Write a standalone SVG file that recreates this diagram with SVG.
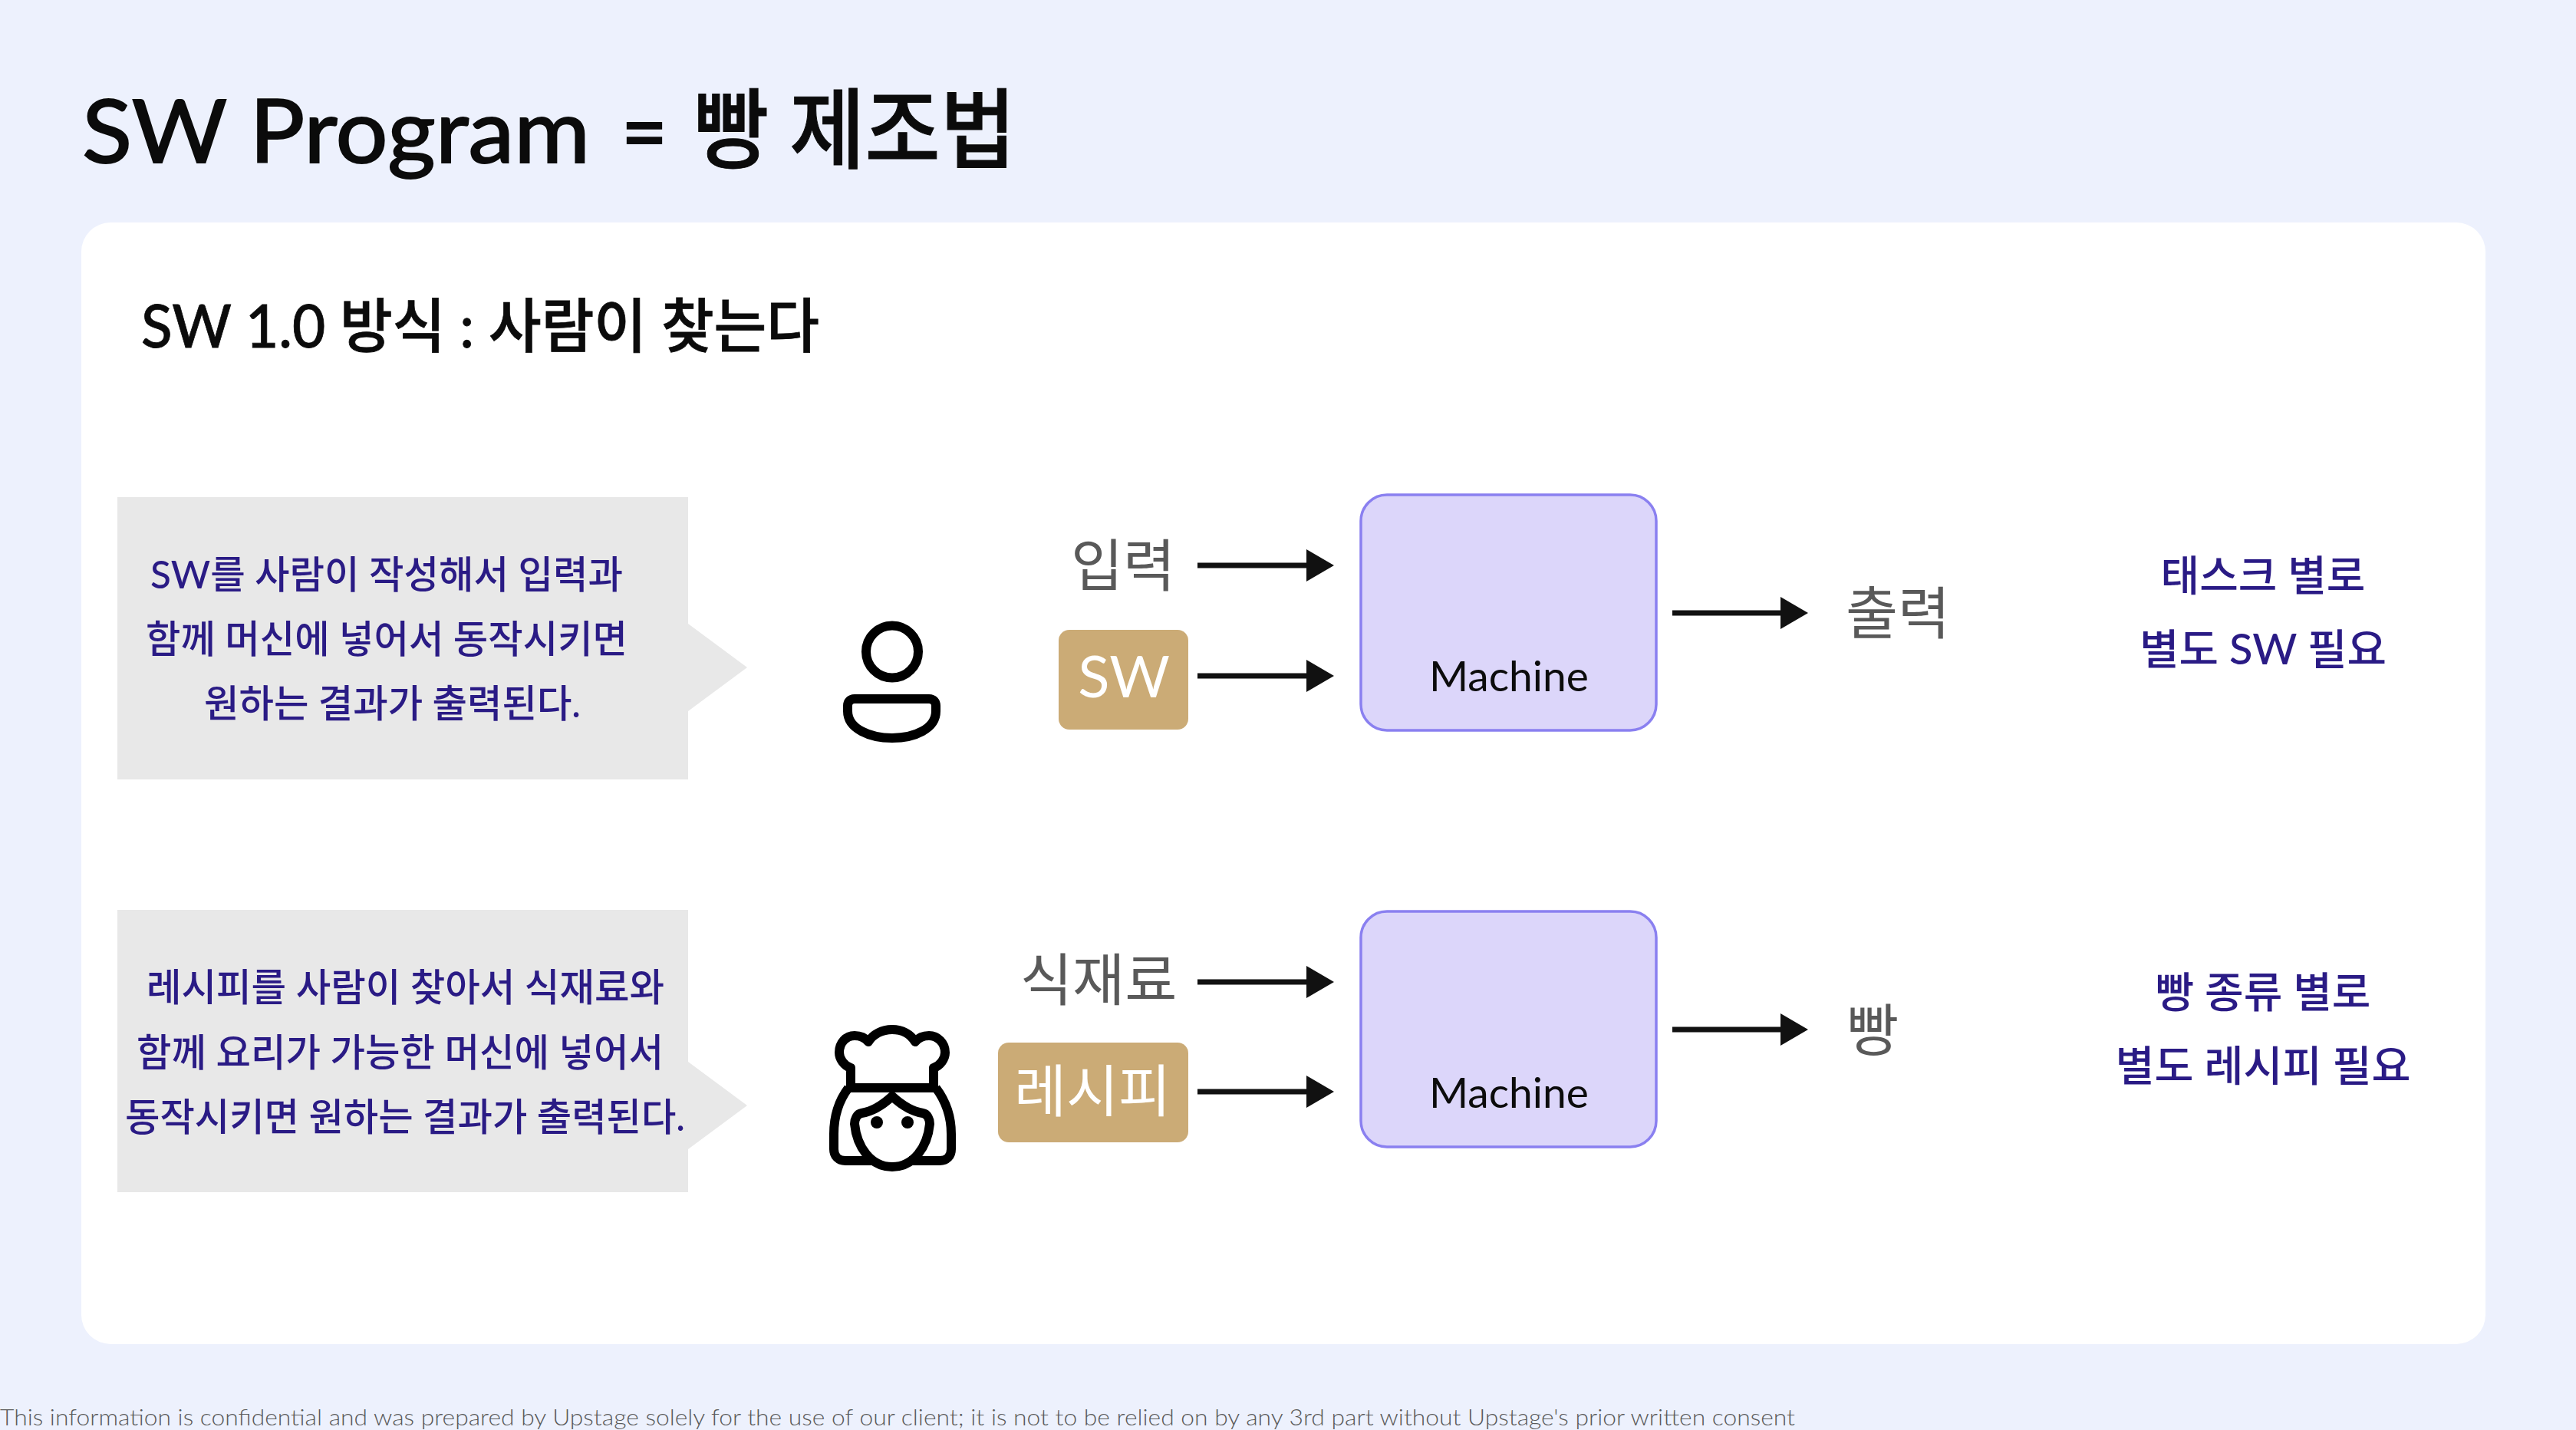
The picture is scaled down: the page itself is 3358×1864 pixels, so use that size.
<svg xmlns="http://www.w3.org/2000/svg" width="3358" height="1864" viewBox="0 0 3358 1864">
<defs>
<style>
text{font-family:"Lato","Noto Sans CJK KR",sans-serif}
.title{font-size:114px;fill:#0b0b0b;stroke:#0b0b0b}
.blue{fill:#2a1b85;font-size:50px;font-weight:500}
.note{fill:#2a1b85;font-size:55px;text-anchor:middle;font-weight:500}
.gray{fill:#595959;font-size:74px}
.mach{fill:#0c0c0c;font-size:54px;text-anchor:middle}
.box{fill:#dcd6fa;stroke:#8a80f0;stroke-width:3.5}
.tan{fill:#cbab76}
.call{fill:#e8e8e8}
.arr{stroke:#111;stroke-width:7;fill:none;marker-end:url(#ah)}
.ic{fill:none;stroke:#000;stroke-width:12;stroke-linejoin:round}
</style>
<marker id="ah" viewBox="0 0 36 42" refX="2" refY="21" markerWidth="36" markerHeight="42" markerUnits="userSpaceOnUse" orient="auto"><path d="M0 0L36 21L0 42z" fill="#111"/></marker>
</defs>
<rect width="3358" height="1864" fill="#edf1fd"/>
<rect x="106" y="290" width="3134" height="1462" rx="38" fill="#fff"/>
<g id="title">
<text class="title" x="107" y="212" font-weight="400" stroke-width="2" textLength="662" lengthAdjust="spacingAndGlyphs">SW Program</text>
<text class="title" x="810" y="212" font-weight="400" stroke-width="2" textLength="60" lengthAdjust="spacingAndGlyphs">=</text>
<text class="title" x="904" y="210" font-weight="500" stroke-width="1" textLength="420" lengthAdjust="spacingAndGlyphs">빵 제조법</text>
</g>
<text x="184" y="453" font-size="77" font-weight="500" fill="#0b0b0b" stroke="#0b0b0b" stroke-width="0.8" textLength="884" lengthAdjust="spacingAndGlyphs">SW 1.0 방식 : 사람이 찾는다</text>
<g id="callout1"><path class="call" d="M153 648H897V813L974 870L897 927V1016H153z"/>
<text class="blue" x="196" y="767" textLength="616" lengthAdjust="spacingAndGlyphs">SW를 사람이 작성해서 입력과</text><text class="blue" x="190" y="851" textLength="628" lengthAdjust="spacingAndGlyphs">함께 머신에 넣어서 동작시키면</text><text class="blue" x="266" y="935" textLength="491" lengthAdjust="spacingAndGlyphs">원하는 결과가 출력된다.</text></g>
<g id="callout2"><path class="call" d="M153 1186H897V1384L974 1441L897 1498V1554H153z"/>
<text class="blue" x="191" y="1305" textLength="675" lengthAdjust="spacingAndGlyphs">레시피를 사람이 찾아서 식재료와</text><text class="blue" x="178" y="1390" textLength="687" lengthAdjust="spacingAndGlyphs">함께 요리가 가능한 머신에 넣어서</text><text class="blue" x="163" y="1474" textLength="730" lengthAdjust="spacingAndGlyphs">동작시키면 원하는 결과가 출력된다.</text></g>
<g id="person"><circle class="ic" cx="1163" cy="849.500" r="34"/><path class="ic" d="M1114 911H1211C1217 911 1220 915 1220 920V927C1220 950 1192 962 1163 962S1105 950 1105 927V920C1105 915 1108 911 1114 911z"/></g>
<g id="chef"><g class="ic">
<path d="M1109 1392C1100 1389 1094 1380 1094 1372C1094 1359 1103 1350 1114 1350C1121 1350 1128 1353 1132 1358C1138 1348 1150 1342 1163 1342C1176 1342 1187 1348 1193 1358C1197 1353 1204 1350 1211 1350C1222 1350 1232 1359 1232 1372C1232 1380 1226 1389 1217 1392V1418H1109z"/>
<path d="M1106 1418C1094 1434 1087 1452 1087 1478V1498C1087 1507 1093 1513 1102 1513H1140M1185 1513H1225C1234 1513 1240 1507 1240 1498V1478C1240 1452 1232 1434 1220 1418"/>
<path d="M1163 1429C1150 1441 1136 1449 1123 1451C1117 1452 1114 1459 1114 1465C1117 1495 1135 1521 1163 1521C1191 1521 1209 1495 1212 1465C1212 1459 1209 1452 1203 1451C1190 1449 1176 1441 1163 1429z"/></g>
<ellipse cx="1143" cy="1463" rx="8" ry="8"/><ellipse cx="1183" cy="1463" rx="8" ry="8"/></g>
<g id="input1"><text class="gray" x="1396" y="764">입력</text></g>
<g id="sw"><rect class="tan" x="1380" y="821" width="169" height="130" rx="14"/><text x="1465" y="909" font-size="76" fill="#fff" text-anchor="middle">SW</text></g>
<g id="machine1"><rect class="box" x="1774" y="645" width="385" height="307" rx="34"/><text class="mach" x="1967" y="901" textLength="208" lengthAdjust="spacingAndGlyphs">Machine</text></g>
<g id="output1"><text class="gray" x="2406" y="826">출력</text></g>
<g id="note1"><text class="note" x="2950" y="770">태스크 별로</text><text class="note" x="2950" y="866" textLength="322" lengthAdjust="spacingAndGlyphs">별도 SW 필요</text></g>
<g id="input2"><text class="gray" x="1330" y="1304">식재료</text></g>
<g id="recipe"><rect class="tan" x="1301" y="1359" width="248" height="130" rx="14"/><text x="1424" y="1449" font-size="74" fill="#fff" text-anchor="middle">레시피</text></g>
<g id="machine2"><rect class="box" x="1774" y="1188" width="385" height="307" rx="34"/><text class="mach" x="1967" y="1444" textLength="208" lengthAdjust="spacingAndGlyphs">Machine</text></g>
<g id="output2"><text class="gray" x="2407" y="1370">빵</text></g>
<g id="note2"><text class="note" x="2950" y="1313">빵 종류 별로</text><text class="note" x="2950" y="1409" textLength="385" lengthAdjust="spacingAndGlyphs">별도 레시피 필요</text></g>
<g id="connectors">
<path class="arr" d="M1561 737H1705"/><path class="arr" d="M1561 881H1705"/><path class="arr" d="M2180 799H2323"/>
<path class="arr" d="M1561 1280H1705"/><path class="arr" d="M1561 1423H1705"/><path class="arr" d="M2180 1342H2323"/>
</g>
<text x="0" y="1858" font-size="30" font-weight="300" fill="#5a5a5a" textLength="2340" lengthAdjust="spacingAndGlyphs">This information is confidential and was prepared by Upstage solely for the use of our client; it is not to be relied on by any 3rd part without Upstage's prior written consent</text>
</svg>
